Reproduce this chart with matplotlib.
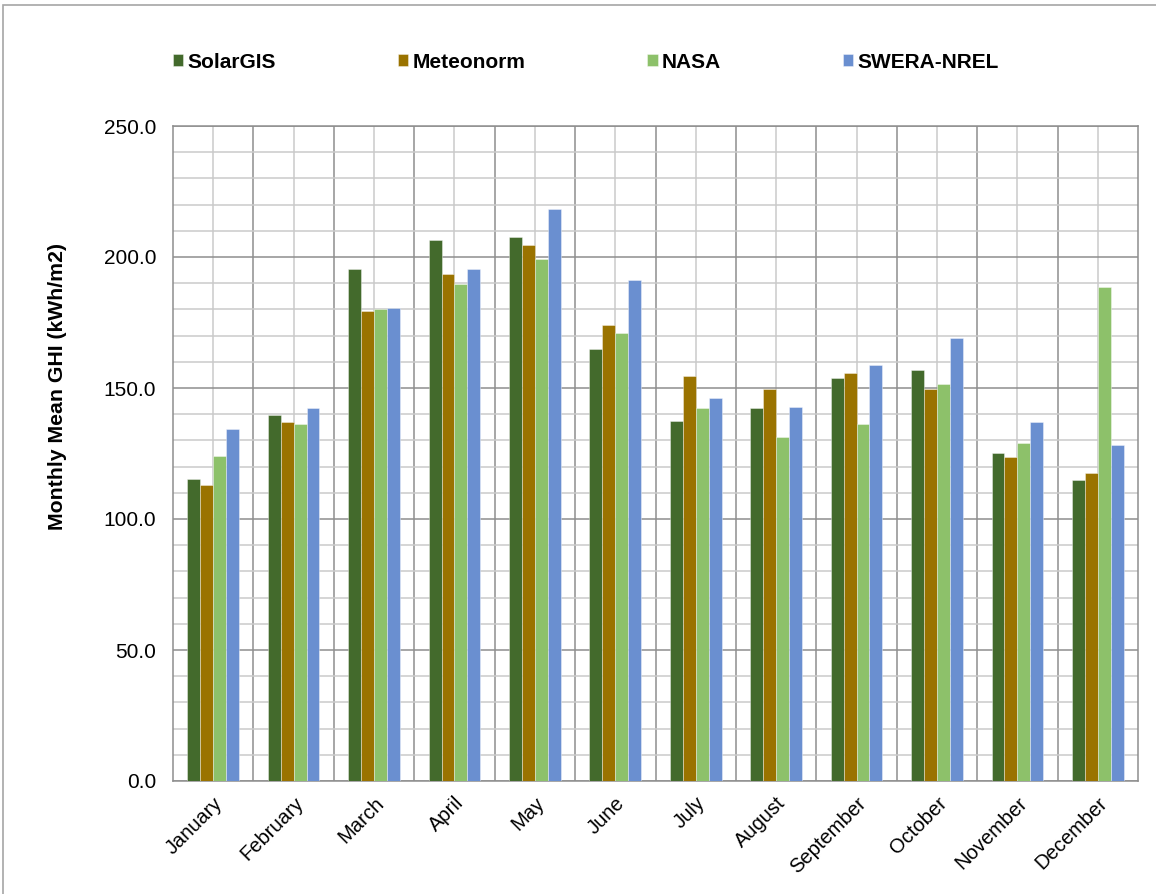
import matplotlib
matplotlib.use("Agg")
import matplotlib.pyplot as plt
import numpy as np
from matplotlib.patches import Rectangle
from matplotlib.ticker import MultipleLocator, FixedLocator

plt.rcParams['font.family'] = ['Liberation Sans', 'DejaVu Sans']

months = ["January", "February", "March", "April", "May", "June",
          "July", "August", "September", "October", "November", "December"]
series_names = ["SolarGIS", "Meteonorm", "NASA", "SWERA-NREL"]
solargis = [115.1, 139.7, 195.5, 206.4, 207.5, 165.0, 137.4, 142.2, 153.7, 156.7, 125.2, 114.7]
meteonorm = [113.0, 136.9, 179.3, 193.6, 204.6, 174.2, 154.7, 149.6, 155.6, 149.6, 123.8, 117.5]
nasa = [124.0, 136.4, 180.0, 189.6, 199.4, 171.0, 142.5, 131.3, 136.4, 151.5, 129.0, 188.4]
swera = [134.4, 142.2, 180.7, 195.6, 218.4, 191.2, 146.0, 142.7, 158.6, 169.0, 136.9, 128.4]
y_ticks = [0, 50, 100, 150, 200, 250]

colors = ["#436A2C", "#9A7300", "#8DC16A", "#6A8FD0"]
series = [solargis, meteonorm, nasa, swera]

W, H = 1156, 894
fig = plt.figure(figsize=(W / 100, H / 100), dpi=100)
ax = fig.add_axes([173 / W, 1 - 781 / H, (1138 - 173) / W, (781 - 126) / H])

x = np.arange(len(months))
group_w = 0.643
bw = group_w / len(series)
for i, (vals, c, name) in enumerate(zip(series, colors, series_names)):
    offs = -group_w / 2 + bw * (i + 0.5)
    ax.bar(x + offs, vals, width=bw, color=c, label=name, zorder=3,
           edgecolor=(1, 1, 1, 0.45), linewidth=0.6)

ax.set_xlim(-0.5, len(months) - 0.5)
ax.set_ylim(0, 250)

# horizontal grid: major every 50, minor every 10
ax.yaxis.set_major_locator(FixedLocator(y_ticks))
ax.yaxis.set_minor_locator(MultipleLocator(10))
ax.set_yticklabels([f"{v:.1f}" for v in y_ticks])
ax.grid(which='major', axis='y', color='#8E8E8E', linewidth=1.1, zorder=1)
ax.grid(which='minor', axis='y', color='#CACACA', linewidth=1.1, zorder=0)

# vertical grid: category boundaries darker, centres lighter
for b in np.arange(0.5, len(months) - 0.5, 1.0):
    ax.axvline(b, color='#8E8E8E', linewidth=1.1, zorder=1)
for cx in x:
    ax.axvline(cx, color='#CACACA', linewidth=1.1, zorder=0)

ax.set_xticks(x)
ax.set_xticklabels(months, rotation=45, ha='right', va='top',
                   rotation_mode='anchor', fontsize=14.5)
ax.tick_params(axis='both', which='both', length=0)
ax.tick_params(axis='y', pad=12, labelsize=15)
ax.tick_params(axis='x', pad=9)

for s in ax.spines.values():
    s.set_color('#8E8E8E')
    s.set_linewidth(1.1)

ax.set_ylabel("Monthly Mean GHI (kWh/m2)", fontsize=15.3, fontweight='bold')
ax.yaxis.set_label_coords((67 - 173) / 965, (781 - 386) / 655)

leg = ax.legend(loc='center left', bbox_to_anchor=(0.0, 1 + (126 - 62) / 655),
                ncol=4, frameon=False, fontsize=15, handlelength=0.5,
                handleheight=0.5, handletextpad=0.2, columnspacing=5.85,
                borderaxespad=0, borderpad=0)
for t in leg.get_texts():
    t.set_fontweight('bold')

# outer chart frame
fig.patches.append(Rectangle((3 / W, -0.05), 1.2, 1 - 5 / H + 0.05,
                             transform=fig.transFigure, fill=False,
                             edgecolor='#A6A6A6', linewidth=1.2))

fig.savefig("out.png", dpi=100)
